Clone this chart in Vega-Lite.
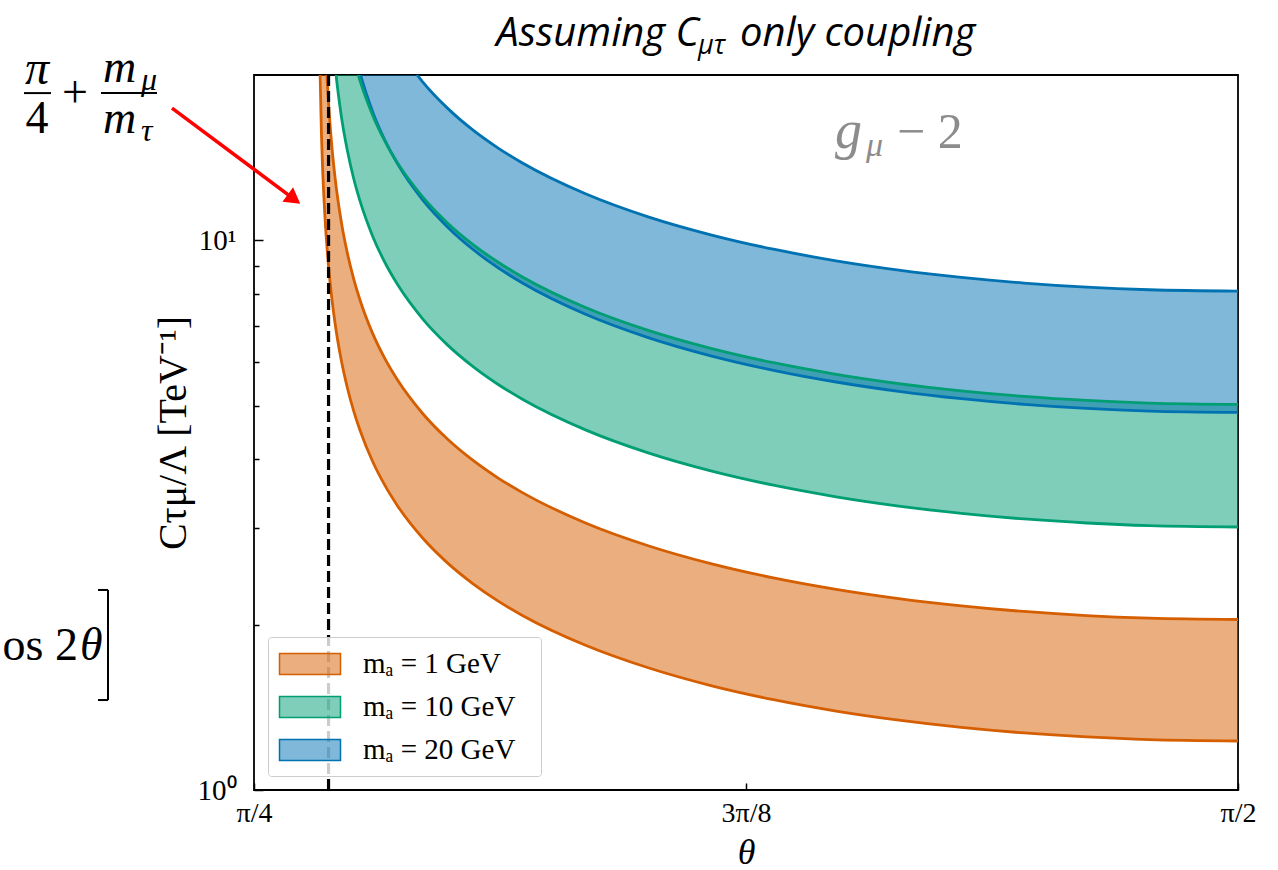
{
  "$schema": "https://vega.github.io/schema/vega-lite/v6.json",
  "width": 984,
  "height": 715,
  "autosize": {"type": "none"},
  "padding": {"left": 254, "top": 75, "right": 40, "bottom": 80},
  "background": "white",
  "datasets": {
    "bands": [
      {"m": "1 GeV", "t": 0.838, "lo": 20.87, "hi": null},
      {"m": "1 GeV", "t": 0.8392, "lo": 15.70, "hi": 96.9},
      {"m": "1 GeV", "t": 0.84, "lo": 13.82, "hi": 43.29},
      {"m": "1 GeV", "t": 0.842, "lo": 11.07, "hi": 25.01},
      {"m": "1 GeV", "t": 0.845, "lo": 8.922, "hi": 17.69},
      {"m": "1 GeV", "t": 0.8475, "lo": 7.850, "hi": 14.86},
      {"m": "1 GeV", "t": 0.85, "lo": 7.092, "hi": 13.07},
      {"m": "1 GeV", "t": 0.855, "lo": 6.064, "hi": 10.84},
      {"m": "1 GeV", "t": 0.86, "lo": 5.383, "hi": 9.462},
      {"m": "1 GeV", "t": 0.865, "lo": 4.891, "hi": 8.507},
      {"m": "1 GeV", "t": 0.87, "lo": 4.514, "hi": 7.793},
      {"m": "1 GeV", "t": 0.88, "lo": 3.965, "hi": 6.781},
      {"m": "1 GeV", "t": 0.89, "lo": 3.579, "hi": 6.086},
      {"m": "1 GeV", "t": 0.90, "lo": 3.288, "hi": 5.570},
      {"m": "1 GeV", "t": 0.92, "lo": 2.874, "hi": 4.843},
      {"m": "1 GeV", "t": 0.94, "lo": 2.587, "hi": 4.347},
      {"m": "1 GeV", "t": 0.96, "lo": 2.375, "hi": 3.982},
      {"m": "1 GeV", "t": 0.98, "lo": 2.209, "hi": 3.699},
      {"m": "1 GeV", "t": 1.00, "lo": 2.076, "hi": 3.473},
      {"m": "1 GeV", "t": 1.05, "lo": 1.834, "hi": 3.061},
      {"m": "1 GeV", "t": 1.10, "lo": 1.669, "hi": 2.783},
      {"m": "1 GeV", "t": 1.15, "lo": 1.549, "hi": 2.582},
      {"m": "1 GeV", "t": 1.20, "lo": 1.460, "hi": 2.432},
      {"m": "1 GeV", "t": 1.25, "lo": 1.392, "hi": 2.318},
      {"m": "1 GeV", "t": 1.30, "lo": 1.340, "hi": 2.230},
      {"m": "1 GeV", "t": 1.35, "lo": 1.300, "hi": 2.163},
      {"m": "1 GeV", "t": 1.40, "lo": 1.270, "hi": 2.113},
      {"m": "1 GeV", "t": 1.45, "lo": 1.249, "hi": 2.077},
      {"m": "1 GeV", "t": 1.50, "lo": 1.235, "hi": 2.055},
      {"m": "1 GeV", "t": 1.5708, "lo": 1.228, "hi": 2.043},
      {"m": "10 GeV", "t": 0.845, "lo": 30.94, "hi": 48.41},
      {"m": "10 GeV", "t": 0.8475, "lo": 24.53, "hi": 39.31},
      {"m": "10 GeV", "t": 0.85, "lo": 20.96, "hi": 33.97},
      {"m": "10 GeV", "t": 0.855, "lo": 16.89, "hi": 27.67},
      {"m": "10 GeV", "t": 0.86, "lo": 14.54, "hi": 23.93},
      {"m": "10 GeV", "t": 0.865, "lo": 12.95, "hi": 21.40},
      {"m": "10 GeV", "t": 0.87, "lo": 11.80, "hi": 19.53},
      {"m": "10 GeV", "t": 0.88, "lo": 10.19, "hi": 16.92},
      {"m": "10 GeV", "t": 0.89, "lo": 9.107, "hi": 15.14},
      {"m": "10 GeV", "t": 0.90, "lo": 8.311, "hi": 13.83},
      {"m": "10 GeV", "t": 0.92, "lo": 7.200, "hi": 12.00},
      {"m": "10 GeV", "t": 0.94, "lo": 6.449, "hi": 10.75},
      {"m": "10 GeV", "t": 0.96, "lo": 5.899, "hi": 9.839},
      {"m": "10 GeV", "t": 0.98, "lo": 5.474, "hi": 9.135},
      {"m": "10 GeV", "t": 1.00, "lo": 5.135, "hi": 8.571},
      {"m": "10 GeV", "t": 1.05, "lo": 4.521, "hi": 7.549},
      {"m": "10 GeV", "t": 1.10, "lo": 4.106, "hi": 6.859},
      {"m": "10 GeV", "t": 1.15, "lo": 3.808, "hi": 6.362},
      {"m": "10 GeV", "t": 1.20, "lo": 3.586, "hi": 5.991},
      {"m": "10 GeV", "t": 1.25, "lo": 3.416, "hi": 5.708},
      {"m": "10 GeV", "t": 1.30, "lo": 3.286, "hi": 5.491},
      {"m": "10 GeV", "t": 1.35, "lo": 3.187, "hi": 5.326},
      {"m": "10 GeV", "t": 1.40, "lo": 3.113, "hi": 5.202},
      {"m": "10 GeV", "t": 1.45, "lo": 3.061, "hi": 5.115},
      {"m": "10 GeV", "t": 1.50, "lo": 3.027, "hi": 5.059},
      {"m": "10 GeV", "t": 1.5708, "lo": 3.010, "hi": 5.031},
      {"m": "20 GeV", "t": 0.85, "lo": 42.36, "hi": 59.25},
      {"m": "20 GeV", "t": 0.855, "lo": 31.13, "hi": 46.85},
      {"m": "20 GeV", "t": 0.86, "lo": 25.77, "hi": 39.97},
      {"m": "20 GeV", "t": 0.865, "lo": 22.48, "hi": 35.44},
      {"m": "20 GeV", "t": 0.87, "lo": 20.20, "hi": 32.17},
      {"m": "20 GeV", "t": 0.88, "lo": 17.17, "hi": 27.68},
      {"m": "20 GeV", "t": 0.89, "lo": 15.19, "hi": 24.67},
      {"m": "20 GeV", "t": 0.90, "lo": 13.78, "hi": 22.48},
      {"m": "20 GeV", "t": 0.92, "lo": 11.85, "hi": 19.44},
      {"m": "20 GeV", "t": 0.94, "lo": 10.57, "hi": 17.39},
      {"m": "20 GeV", "t": 0.96, "lo": 9.636, "hi": 15.89},
      {"m": "20 GeV", "t": 0.98, "lo": 8.924, "hi": 14.74},
      {"m": "20 GeV", "t": 1.00, "lo": 8.358, "hi": 13.82},
      {"m": "20 GeV", "t": 1.05, "lo": 7.340, "hi": 12.16},
      {"m": "20 GeV", "t": 1.10, "lo": 6.657, "hi": 11.04},
      {"m": "20 GeV", "t": 1.15, "lo": 6.167, "hi": 10.24},
      {"m": "20 GeV", "t": 1.20, "lo": 5.803, "hi": 9.638},
      {"m": "20 GeV", "t": 1.25, "lo": 5.526, "hi": 9.181},
      {"m": "20 GeV", "t": 1.30, "lo": 5.314, "hi": 8.831},
      {"m": "20 GeV", "t": 1.35, "lo": 5.152, "hi": 8.564},
      {"m": "20 GeV", "t": 1.40, "lo": 5.031, "hi": 8.365},
      {"m": "20 GeV", "t": 1.45, "lo": 4.946, "hi": 8.223},
      {"m": "20 GeV", "t": 1.50, "lo": 4.892, "hi": 8.134},
      {"m": "20 GeV", "t": 1.5708, "lo": 4.864, "hi": 8.088}
    ]
  },
  "layer": [
    {
      "data": {"name": "bands"},
      "transform": [{"filter": {"field": "hi", "valid": true}}],
      "mark": {"type": "area", "fillOpacity": 0.5, "clip": true, "interpolate": "monotone"},
      "encoding": {
        "x": {"field": "t", "type": "quantitative", "scale": {"domain": [0.785398, 1.570796], "nice": false, "zero": false},
          "axis": {"values": [0.785398, 1.178097, 1.570796], "labelExpr": "datum.value < 0.9 ? 'π/4' : (datum.value < 1.3 ? '3π/8' : 'π/2')", "labelFontSize": 28, "labelPadding": 16, "tickSize": -7, "tickWidth": 1.5, "title": "θ", "titleFontSize": 36, "titleFontStyle": "italic", "titlePadding": 8, "labelFlush": false, "labelOverlap": false, "labelBound": false}},
        "y": {"field": "lo", "type": "quantitative", "scale": {"type": "log", "domain": [1, 20], "nice": false},
          "axis": {"values": [1, 2, 3, 4, 5, 6, 7, 8, 9, 10], "labelExpr": "datum.value == 1 ? '10⁰' : (datum.value == 10 ? '10¹' : '')", "labelFontSize": 29, "labelPadding": 27,
            "tickSize": {"condition": {"test": "datum.value == 1 || datum.value == 10", "value": -9}, "value": -5},
            "tickWidth": 1.5, "labelOverlap": false, "labelBound": false, "labelFlush": false,
            "title": "Cτμ/Λ [TeV⁻¹]", "titleFontSize": 40, "titlePadding": 4}},
        "y2": {"field": "hi"},
        "color": {"field": "m", "type": "nominal", "scale": {"domain": ["1 GeV", "10 GeV", "20 GeV"], "range": ["#d55e00", "#009e73", "#0072b2"]},
          "legend": {"orient": "bottom-left", "offset": 14, "title": null, "labelExpr": "'mₐ  =  ' + datum.label",
            "labelFont": "Liberation Serif, DejaVu Serif", "labelFontSize": 29, "labelColor": "black", "labelOffset": 37, "labelLimit": 400,
            "symbolType": "M-2,-0.69H2V0.69H-2Z", "symbolSize": 930, "symbolOffset": 15, "symbolStrokeWidth": 1.5, "symbolOpacity": 1,
            "strokeColor": "#cccccc", "fillColor": "rgba(255,255,255,0.8)", "padding": 11, "cornerRadius": 3, "rowPadding": 12,
            "encode": {"symbols": {"update": {"fillOpacity": {"value": 0.5}, "stroke": {"scale": "color", "field": "value"}, "strokeWidth": {"value": 1.5}}}}}}
      }
    },
    {
      "data": {"name": "bands"},
      "transform": [{"filter": {"field": "lo", "valid": true}}],
      "mark": {"type": "line", "strokeWidth": 2.8, "clip": true, "interpolate": "monotone"},
      "encoding": {
        "x": {"field": "t", "type": "quantitative"},
        "y": {"field": "lo", "type": "quantitative"},
        "color": {"field": "m", "type": "nominal", "legend": null}
      }
    },
    {
      "data": {"name": "bands"},
      "transform": [{"filter": {"field": "hi", "valid": true}}],
      "mark": {"type": "line", "strokeWidth": 2.8, "clip": true, "interpolate": "monotone"},
      "encoding": {
        "x": {"field": "t", "type": "quantitative"},
        "y": {"field": "hi", "type": "quantitative"},
        "color": {"field": "m", "type": "nominal", "legend": null}
      }
    },
    {
      "data": {"values": [{}]},
      "mark": {"type": "rule", "color": "black", "strokeWidth": 3.2, "strokeDash": [11, 5]},
      "encoding": {"x": {"datum": 0.8449}}
    },
    {
      "data": {"values": [{}]},
      "mark": {"type": "text", "text": "Assuming C", "font": "Open Sans", "fontSize": 40, "fontStyle": "italic", "color": "black", "align": "right", "baseline": "alphabetic"},
      "encoding": {"x": {"datum": 1.140583}, "y": {"datum": 22.58}}
    },
    {
      "data": {"values": [{}]},
      "mark": {"type": "text", "text": "μτ", "font": "Open Sans", "fontSize": 27, "fontStyle": "italic", "color": "black", "align": "left", "baseline": "alphabetic"},
      "encoding": {"x": {"datum": 1.139785}, "y": {"datum": 21.84}}
    },
    {
      "data": {"values": [{}]},
      "mark": {"type": "text", "text": "only coupling", "font": "Open Sans", "fontSize": 40, "fontStyle": "italic", "color": "black", "align": "left", "baseline": "alphabetic"},
      "encoding": {"x": {"datum": 1.173309}, "y": {"datum": 22.58}}
    },
    {
      "data": {"values": [{}]},
      "mark": {"type": "text", "text": "g", "font": "Liberation Serif", "fontSize": 54, "fontStyle": "italic", "color": "#8c8c8c", "align": "left", "baseline": "alphabetic"},
      "encoding": {"x": {"datum": 1.249135}, "y": {"datum": 14.73}}
    },
    {
      "data": {"values": [{}]},
      "mark": {"type": "text", "text": "μ", "font": "Liberation Serif", "fontSize": 34, "fontStyle": "italic", "color": "#8c8c8c", "align": "left", "baseline": "alphabetic"},
      "encoding": {"x": {"datum": 1.273878}, "y": {"datum": 14.24}}
    },
    {
      "data": {"values": [{}]},
      "mark": {"type": "text", "text": "− 2", "font": "Liberation Serif", "fontSize": 50, "color": "#8c8c8c", "align": "left", "baseline": "alphabetic"},
      "encoding": {"x": {"datum": 1.298622}, "y": {"datum": 14.73}}
    },
    {
      "data": {"values": [{}]},
      "mark": {"type": "text", "text": "π", "font": "Liberation Serif", "fontSize": 48, "fontStyle": "italic", "color": "black", "align": "center", "baseline": "alphabetic"},
      "encoding": {"x": {"datum": 0.612195}, "y": {"datum": 19.26}}
    },
    {
      "data": {"values": [{}]},
      "mark": {"type": "text", "text": "4", "font": "Liberation Serif", "fontSize": 46, "color": "black", "align": "center", "baseline": "alphabetic"},
      "encoding": {"x": {"datum": 0.612195}, "y": {"datum": 15.68}}
    },
    {
      "data": {"values": [{}]},
      "mark": {"type": "rule", "color": "black", "strokeWidth": 2},
      "encoding": {"x": {"datum": 0.601819}, "x2": {"datum": 0.623369}, "y": {"datum": 18.54}}
    },
    {
      "data": {"values": [{}]},
      "mark": {"type": "text", "text": "+", "font": "Liberation Serif", "fontSize": 46, "color": "black", "align": "center", "baseline": "alphabetic"},
      "encoding": {"x": {"datum": 0.642526}, "y": {"datum": 17.49}}
    },
    {
      "data": {"values": [{}]},
      "mark": {"type": "text", "text": "m", "font": "Liberation Serif", "fontSize": 46, "fontStyle": "italic", "color": "black", "align": "left", "baseline": "alphabetic"},
      "encoding": {"x": {"datum": 0.664874}, "y": {"datum": 19.42}}
    },
    {
      "data": {"values": [{}]},
      "mark": {"type": "text", "text": "μ", "font": "Liberation Serif", "fontSize": 32, "fontStyle": "italic", "color": "black", "align": "left", "baseline": "alphabetic"},
      "encoding": {"x": {"datum": 0.695205}, "y": {"datum": 18.78}}
    },
    {
      "data": {"values": [{}]},
      "mark": {"type": "rule", "color": "black", "strokeWidth": 2},
      "encoding": {"x": {"datum": 0.663278}, "x2": {"datum": 0.707976}, "y": {"datum": 18.54}}
    },
    {
      "data": {"values": [{}]},
      "mark": {"type": "text", "text": "m", "font": "Liberation Serif", "fontSize": 46, "fontStyle": "italic", "color": "black", "align": "left", "baseline": "alphabetic"},
      "encoding": {"x": {"datum": 0.664874}, "y": {"datum": 15.68}}
    },
    {
      "data": {"values": [{}]},
      "mark": {"type": "text", "text": "τ", "font": "Liberation Serif", "fontSize": 32, "fontStyle": "italic", "color": "black", "align": "left", "baseline": "alphabetic"},
      "encoding": {"x": {"datum": 0.695205}, "y": {"datum": 15.17}}
    },
    {
      "data": {"values": [{}]},
      "mark": {"type": "rule", "color": "#ff0000", "strokeWidth": 3.5},
      "encoding": {"x": {"datum": 0.719948}, "y": {"datum": 17.41}, "x2": {"datum": 0.814132}, "y2": {"datum": 12.04}}
    },
    {
      "data": {"values": [{}]},
      "mark": {"type": "point", "shape": "triangle-right", "filled": true, "color": "#ff0000", "opacity": 1, "size": 320, "angle": 36.5},
      "encoding": {"x": {"datum": 0.817325}, "y": {"datum": 11.89}}
    },
    {
      "data": {"values": [{}]},
      "mark": {"type": "text", "text": "os 2", "font": "Liberation Serif", "fontSize": 46, "color": "black", "align": "right", "baseline": "alphabetic"},
      "encoding": {"x": {"datum": 0.644920}, "y": {"datum": 1.7243}}
    },
    {
      "data": {"values": [{}]},
      "mark": {"type": "text", "text": "θ", "font": "Liberation Serif", "fontSize": 46, "fontStyle": "italic", "color": "black", "align": "left", "baseline": "alphabetic"},
      "encoding": {"x": {"datum": 0.646516}, "y": {"datum": 1.7243}}
    },
    {
      "data": {"values": [{}]},
      "mark": {"type": "rule", "color": "black", "strokeWidth": 2},
      "encoding": {"x": {"datum": 0.668865}, "y": {"datum": 2.312}, "y2": {"datum": 1.4578}}
    },
    {
      "data": {"values": [{}]},
      "mark": {"type": "rule", "color": "black", "strokeWidth": 2},
      "encoding": {"x": {"datum": 0.660883}, "x2": {"datum": 0.668865}, "y": {"datum": 2.312}}
    },
    {
      "data": {"values": [{}]},
      "mark": {"type": "rule", "color": "black", "strokeWidth": 2},
      "encoding": {"x": {"datum": 0.660883}, "x2": {"datum": 0.668865}, "y": {"datum": 1.4578}}
    }
  ],
  "config": {
    "view": {"stroke": "black", "strokeWidth": 1.8},
    "axis": {"domain": false, "grid": false, "labelFont": "Liberation Serif", "titleFont": "Liberation Serif", "tickColor": "black", "labelColor": "black", "titleColor": "black", "titleFontWeight": "normal"}
  }
}
